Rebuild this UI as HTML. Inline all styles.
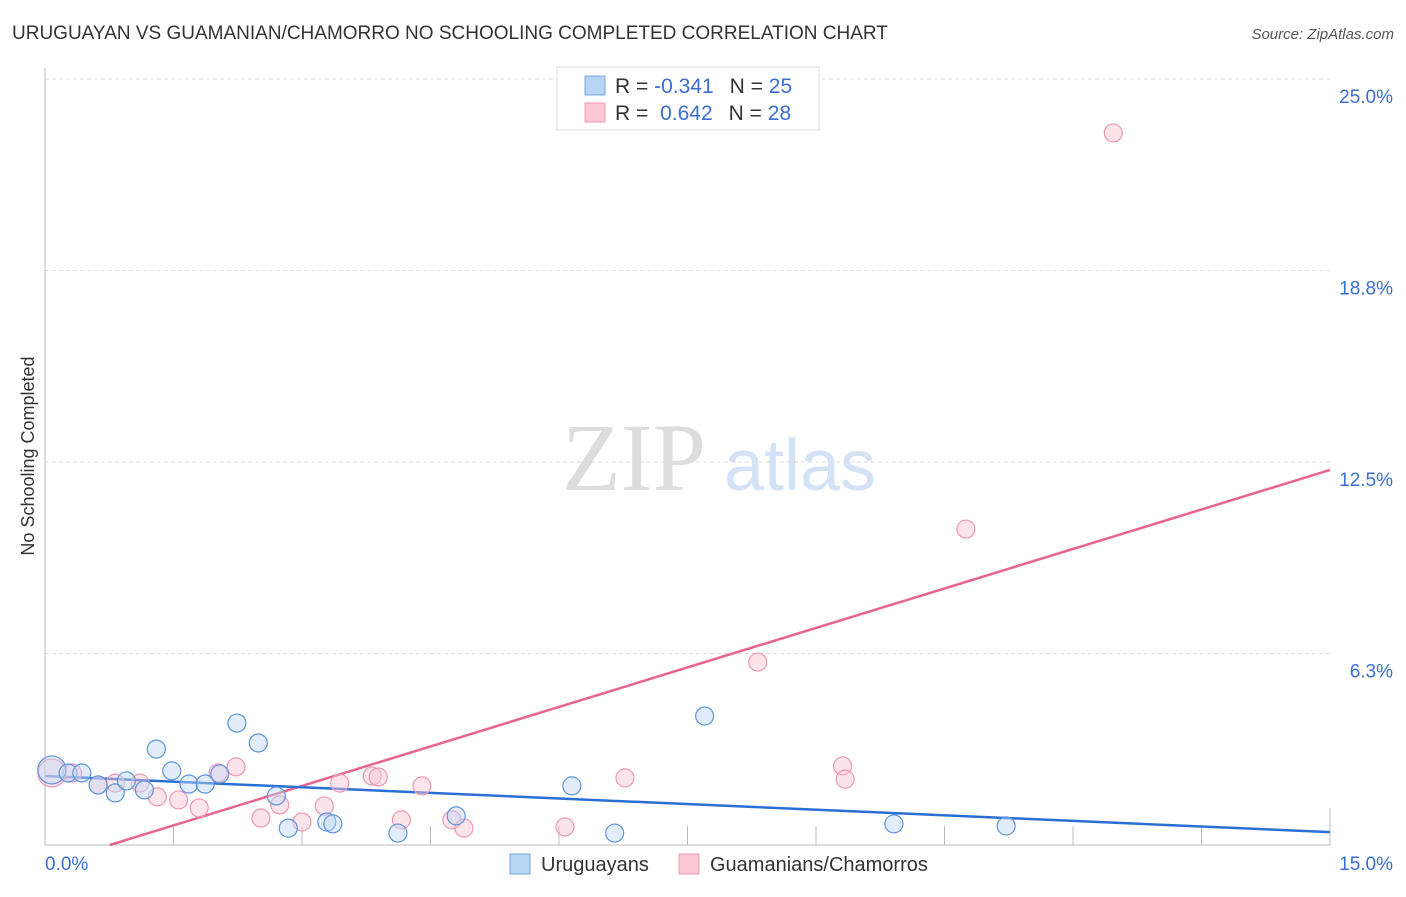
<!DOCTYPE html>
<html><head><meta charset="utf-8"><style>
body{margin:0;background:#fff;font-family:"Liberation Sans",sans-serif;}
svg text{font-family:"Liberation Sans",sans-serif;}
</style></head><body>
<svg width="1406" height="892">
<text x="12" y="39" font-size="19" fill="#333">URUGUAYAN VS GUAMANIAN/CHAMORRO NO SCHOOLING COMPLETED CORRELATION CHART</text>
<text x="1394" y="39" font-size="15" fill="#555" font-style="italic" text-anchor="end">Source: ZipAtlas.com</text>
<text x="34" y="456" font-size="18" fill="#333" transform="rotate(-90 34 456)" text-anchor="middle">No Schooling Completed</text>
<g>
<text x="634" y="490" font-size="96" fill="#ddd" font-family="Liberation Serif" text-anchor="middle" style="font-family:'Liberation Serif',serif">ZIP</text>
<text x="800" y="490" font-size="72" fill="#d3e2f4" text-anchor="middle">atlas</text></g>
<g id="grid"></g><g id="axes"></g><g id="lines"></g><g id="pts"></g>
<g>
<rect x="557" y="67" width="262" height="63" fill="#fff" stroke="#ddd"/>
<rect x="585" y="76" width="20" height="19" fill="#b8d4f5" stroke="#7aa8e0"/>
<rect x="585" y="103" width="20" height="19" fill="#fcc8d6" stroke="#f09ab0"/>
<text x="615" y="93" font-size="21" fill="#333">R = <tspan fill="#3a6fd0">-0.341</tspan><tspan dx="16">N = </tspan><tspan fill="#3a6fd0">25</tspan></text>
<text x="615" y="120" font-size="21" fill="#333">R = <tspan fill="#3a6fd0" dx="6">0.642</tspan><tspan dx="16">N = </tspan><tspan fill="#3a6fd0">28</tspan></text>
</g>
<g>
<rect x="510" y="854" width="20" height="20" fill="#b8d4f5" stroke="#7aa8e0"/>
<text x="541" y="871" font-size="20" fill="#333">Uruguayans</text>
<rect x="679" y="854" width="20" height="20" fill="#fcc8d6" stroke="#f09ab0"/>
<text x="710" y="871" font-size="20" fill="#333">Guamanians/Chamorros</text>
</g>
</svg>
<script>
const blueX=[0.08,0.27,0.43,0.62,0.82,0.95,1.16,1.30,1.48,1.68,1.87,2.04,2.24,2.49,2.70,2.84,3.29,3.36,4.12,4.80,6.15,6.65,7.70,9.91,11.22];
const blueY=[2.45,2.35,2.35,1.96,1.70,2.09,1.80,3.13,2.42,1.99,1.99,2.32,3.98,3.33,1.60,0.55,0.75,0.69,0.39,0.95,1.93,0.39,4.21,0.69,0.62];
const pinkX=[0.08,0.32,0.62,0.82,1.11,1.31,1.56,1.80,2.02,2.23,2.52,2.74,3.00,3.26,3.44,3.82,3.89,4.16,4.40,4.75,4.89,6.07,6.77,8.32,9.31,9.34,10.75,12.47];
const pinkY=[2.35,2.35,1.96,2.02,2.02,1.57,1.47,1.21,2.35,2.55,0.88,1.31,0.75,1.27,2.02,2.25,2.22,0.82,1.93,0.82,0.55,0.59,2.19,5.97,2.58,2.15,10.31,23.24];
const yTicks=[6.25,12.5,18.75,25];
const yTickLabels=["6.3%","12.5%","18.8%","25.0%"];
const blueLine=[2.25,0.42];
const pinkLine=[-0.65,12.24];
const NS="http://www.w3.org/2000/svg";
const sx=v=>45+v*1285/15, sy=v=>845-v*766/25;
function mk(t,a,p){const e=document.createElementNS(NS,t);for(const k in a)e.setAttribute(k,a[k]);p.appendChild(e);return e;}
const grid=document.getElementById('grid'),axes=document.getElementById('axes');
yTicks.forEach((t,i)=>{
 const l=mk('line',{x1:45,x2:1330,y1:sy(t),y2:sy(t),stroke:'#ddd','stroke-dasharray':'4 3'},grid);
 
 
 const tx=mk('text',{x:1393,y:sy(t)+24,'font-size':19,fill:'#3a6fd0','text-anchor':'end'},axes);
 tx.textContent=yTickLabels[i];
 
 
});
const ya=mk('line',{x1:45,x2:45,y1:68,y2:845,stroke:'#bbb'},axes);


const xa=mk('line',{x1:45,x2:1330,y1:845,y2:845,stroke:'#bbb'},axes);


for(let i=1;i<=10;i++){const t=mk('line',{x1:sx(i*1.5),x2:sx(i*1.5),y1:i==10?808:826,y2:845,stroke:'#bbb'},axes);
 
 }
const x0=mk('text',{x:45,y:870,'font-size':19,fill:'#3a6fd0'},axes);x0.textContent="0.0%";


const x1=mk('text',{x:1393,y:870,'font-size':19,fill:'#3a6fd0','text-anchor':'end'},axes);x1.textContent="15.0%";


const lines=document.getElementById('lines'),pts=document.getElementById('pts');
function drawPts(X,Y,fill,stroke,name){X.forEach((x,i)=>{
 const c=mk('circle',{cx:sx(x),cy:sy(Y[i]),r:i==0?14:9,fill:fill,'fill-opacity':0.45,stroke:stroke,'stroke-width':1.2},pts);
 
 });}
drawPts(pinkX,pinkY,'#fbc3d2','#ee98b0','guamanian-point');
drawPts(blueX,blueY,'#bcd6f4','#5f95dc','uruguayan-point');
const pStart=-pinkLine[0]/((pinkLine[1]-pinkLine[0])/15);
const pl=mk('line',{x1:sx(pStart),y1:sy(0),x2:sx(15),y2:sy(pinkLine[1]),stroke:'#e8648e','stroke-width':2.5},lines);


const bl=mk('line',{x1:sx(0),y1:sy(blueLine[0]),x2:sx(15),y2:sy(blueLine[1]),stroke:'#2a6fd4','stroke-width':2.5},lines);


</script>
</body></html>
